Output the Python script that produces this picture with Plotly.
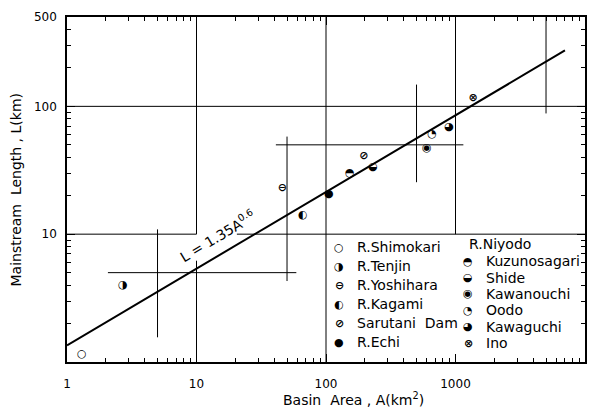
import math
import plotly.graph_objects as go

# ---------------- data ----------------
names = ["R.Shimokari", "R.Tenjin", "R.Yoshihara", "R.Kagami", "Sarutani  Dam", "R.Echi",
         "Kuzunosagari", "Shide", "Kawanouchi", "Oodo", "Kawaguchi", "Ino"]
area_km2 = [1.3, 2.7, 46, 66, 196, 105, 153, 231, 600, 660, 890, 1365]
length_km = [1.15, 4.0, 23, 14, 41, 20.5, 30, 33.5, 47, 60, 69, 115]
group_header = "R.Niyodo"
n_left = 6  # first six are separate rivers, the rest belong to R.Niyodo

fit_coef = 1.35
fit_exp = 0.6
fit_area_range = [1, 7000]

x_tickvals = [1, 10, 100, 1000, 10000]
x_ticktext = ["1", "10", "100", "1000", "10000"]
y_tickvals = [10, 100, 500]
y_ticktext = ["10", "100", "500"]

# reference-frame segments (A0, L0, A1, L1)
frame_segments = [
    (1, 100, 10000, 100),
    (10, 10, 10, 500),
    (1, 10, 10, 10),
    (10, 1, 10, 6.2),
    (100, 1, 100, 500),
    (20.5, 10, 10000, 10),
    (1000, 10, 1000, 500),
    (5000, 88, 5000, 500),
    (500, 25.5, 500, 148),
    (41, 50, 1150, 50),
    (50, 4.3, 50, 58),
    (2.07, 5, 59, 5),
    (5, 1.56, 5, 10.9),
]

# ---------------- style ----------------
glyphs = ["○", "◑", "⊖", "◐", "⊘", "●", "◓", "◒", "◉", "◔", "◕", "⊗"]
FONT = "DejaVu Sans"
GLYPH_FONT = dict(family=FONT, size=11, color="black", weight="bold")
W, H = 603, 414
ML, MR, MT, MB = 67, 18, 10, 52
PW, PH = W - ML - MR, H - MT - MB


def px_to_paper(px, py):
    return (px - ML) / PW, (H - MB - py) / PH


fig = go.Figure()

# frame segments
sx, sy = [], []
for a0, l0, a1, l1 in frame_segments:
    sx += [a0, a1, None]
    sy += [l0, l1, None]
fig.add_trace(go.Scatter(x=sx, y=sy, mode="lines", line=dict(color="black", width=1),
                         hoverinfo="skip", showlegend=False))

# regression line
fit_y = [fit_coef * a ** fit_exp for a in fit_area_range]
fig.add_trace(go.Scatter(x=fit_area_range, y=fit_y, mode="lines",
                         line=dict(color="black", width=2), hoverinfo="skip", showlegend=False))

# data points
fig.add_trace(go.Scatter(x=area_km2, y=length_km, mode="text", text=glyphs,
                         textposition="middle center", textfont=GLYPH_FONT,
                         hovertext=names, showlegend=False))

annotations = []
# regression label
annotations.append(dict(x=math.log10(14.4), y=math.log10(9.7), xref="x", yref="y",
                        text="L = 1.35A<sup>0.6</sup>", showarrow=False, textangle=-31,
                        font=dict(family=FONT, size=14, color="black")))

# manual legend
for i in range(len(names)):
    if i < n_left:
        gx, tx, py = 339, 355, 245 + i * 19.4
    else:
        j = i - n_left
        gx, tx, py = 468, 484, 259 + j * 16.8
    gxp, gyp = px_to_paper(gx, py)
    txp, _ = px_to_paper(tx, py)
    annotations.append(dict(x=gxp, y=gyp, xref="paper", yref="paper", text=glyphs[i],
                            showarrow=False, xanchor="center", yanchor="middle",
                            font=GLYPH_FONT))
    annotations.append(dict(x=txp, y=gyp, xref="paper", yref="paper", text=names[i],
                            showarrow=False, xanchor="left", yanchor="middle",
                            font=dict(family=FONT, size=14, color="black")))
hx, hy = px_to_paper(467, 242)
annotations.append(dict(x=hx, y=hy, xref="paper", yref="paper", text=group_header,
                        showarrow=False, xanchor="left", yanchor="middle",
                        font=dict(family=FONT, size=14, color="black")))

# axis titles
tx, ty = px_to_paper(353, 400)
annotations.append(dict(x=tx, y=ty, xref="paper", yref="paper",
                        text="Basin  Area , A(km<sup>2</sup>)", showarrow=False,
                        xanchor="center", yanchor="middle",
                        font=dict(family=FONT, size=14, color="black")))
tx, ty = px_to_paper(15, 186)
annotations.append(dict(x=tx, y=ty, xref="paper", yref="paper",
                        text="Mainstream  Length , L(km)", showarrow=False, textangle=-90,
                        xanchor="center", yanchor="middle",
                        font=dict(family=FONT, size=14, color="black")))

x_minor = [m * 10 ** k for k in range(0, 4) for m in range(2, 10)]
y_minor = [m * 10 ** k for k in range(0, 3) for m in range(2, 10) if m * 10 ** k < 500]

fig.update_layout(
    width=W, height=H,
    margin=dict(l=ML, r=MR, t=MT, b=MB),
    paper_bgcolor="white", plot_bgcolor="white",
    font=dict(family=FONT, size=12, color="black"),
    annotations=annotations,
    xaxis=dict(type="log", range=[0, 4], tickvals=x_tickvals, ticktext=x_ticktext,
               ticks="inside", ticklen=8, tickwidth=1, tickcolor="black",
               showline=True, linecolor="black", linewidth=1.5, mirror="ticks",
               showgrid=False, zeroline=False, ticklabelstandoff=10,
               minor=dict(tickvals=x_minor, ticks="inside", ticklen=4, tickcolor="black",
                          showgrid=False),
               tickfont=dict(family=FONT, size=12, color="black")),
    yaxis=dict(type="log", range=[0, math.log10(500)], tickvals=y_tickvals, ticktext=y_ticktext,
               ticks="inside", ticklen=8, tickwidth=1, tickcolor="black",
               showline=True, linecolor="black", linewidth=1.5, mirror="ticks",
               showgrid=False, zeroline=False, ticklabelstandoff=6,
               minor=dict(tickvals=y_minor, ticks="inside", ticklen=4, tickcolor="black",
                          showgrid=False),
               tickfont=dict(family=FONT, size=12, color="black")),
)

fig.write_html("out.html")
